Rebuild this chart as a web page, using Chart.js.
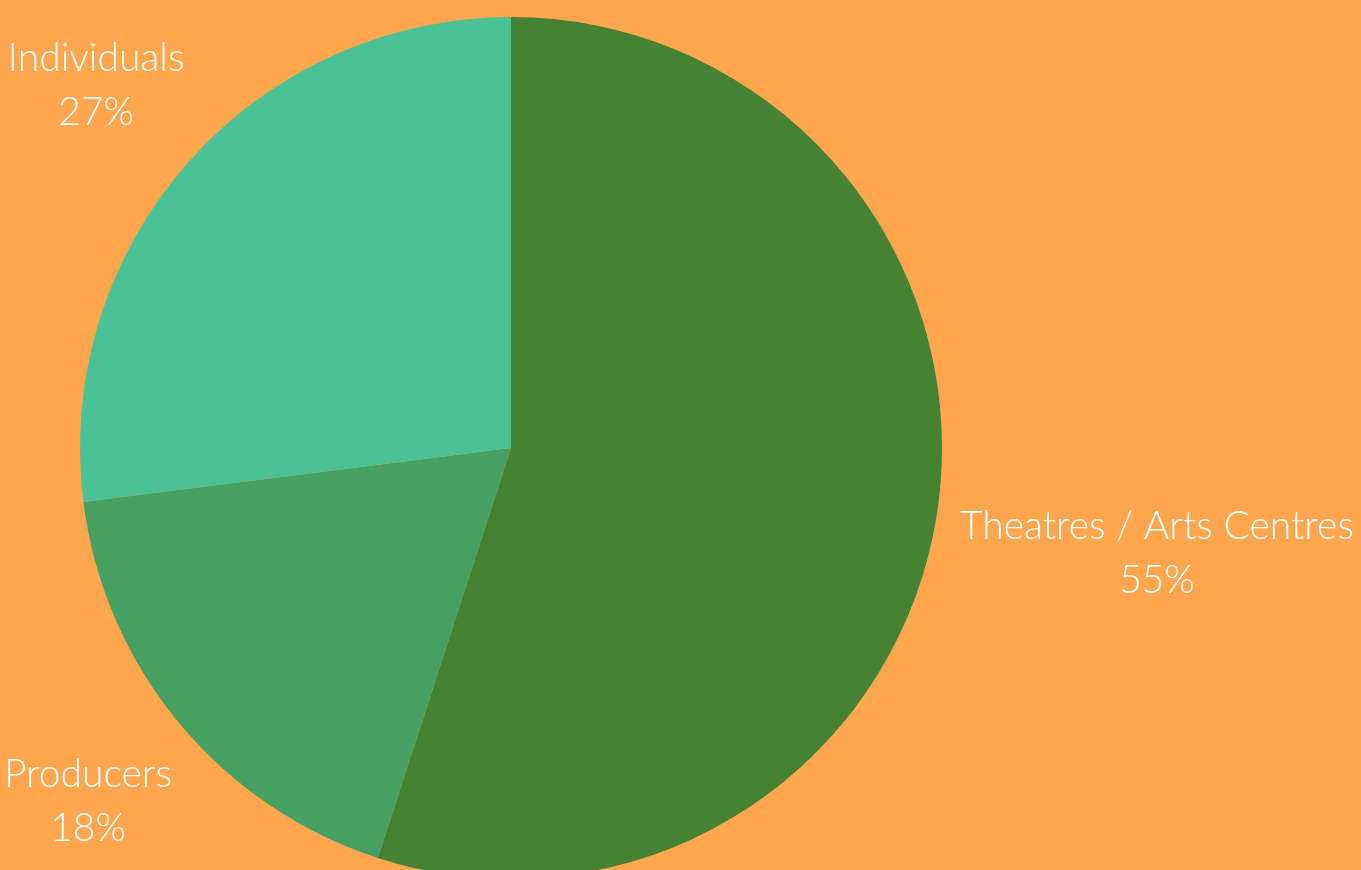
<!DOCTYPE html>
<html>
<head>
<meta charset="utf-8">
<script src="https://cdn.jsdelivr.net/npm/chart.js@4"></script>
<style>
  html, body { margin: 0; padding: 0; background: #FFA64F; overflow: hidden; }
  #wrap { position: relative; width: 1361px; height: 900px; }
</style>
</head>
<body>
<div id="wrap"><canvas id="pie"></canvas></div>
<script>
// chart data
const labels = ['Theatres / Arts Centres', 'Producers', 'Individuals'];
const shares = [55, 18, 27];
const colours = ['#458233', '#46A062', '#4AC295'];

const FONT = '300 39px Lato';
const LINE = 54;

// draws "name / xx%" outside each slice, pushed out along the slice's middle
const outsideLabels = {
  id: 'outsideLabels',
  afterDatasetsDraw(chart) {
    const ctx = chart.ctx;
    const meta = chart.getDatasetMeta(0);
    ctx.save();
    ctx.font = FONT;
    ctx.fillStyle = '#ffffff';
    ctx.textAlign = 'center';
    ctx.textBaseline = 'middle';
    meta.data.forEach((arc, i) => {
      const p = arc.getProps(['x', 'y', 'startAngle', 'endAngle', 'outerRadius'], true);
      const mid = (p.startAngle + p.endAngle) / 2;
      const ux = Math.cos(mid), uy = Math.sin(mid);
      const lines = [labels[i], shares[i] + '%'];
      const w = Math.max(...lines.map(t => ctx.measureText(t).width));
      const h = LINE * lines.length;
      const gap = 20;
      let bx = p.x, by = p.y;
      for (let d = 0; d < p.outerRadius * 2; d++) {
        bx = p.x + ux * d;
        by = p.y + uy * d;
        const kx = bx - Math.sign(ux) * w / 2 - p.x;
        const ky = by - Math.sign(uy) * h / 2 - p.y;
        if (Math.hypot(kx, ky) >= p.outerRadius + gap) break;
      }
      // keep inside visible window
      bx = Math.min(Math.max(bx, w / 2 + 4), 1361 - w / 2 - 4);
      by = Math.min(Math.max(by, h / 2 + 4), 870 - h / 2 - 4);
      lines.forEach((t, k) => {
        ctx.fillText(t, bx, by - h / 2 + LINE * (k + 0.5) + 3);
      });
    });
    ctx.restore();
  }
};

new Chart(document.getElementById('pie'), {
  type: 'pie',
  data: {
    labels: labels,
    datasets: [{
      data: shares,
      backgroundColor: colours,
      borderWidth: 0
    }]
  },
  options: {
    responsive: true,
    maintainAspectRatio: false,
    animation: false,
    layout: { padding: { left: 80, right: 419, top: 17, bottom: 21 } },
    plugins: {
      legend: { display: false },
      tooltip: { enabled: false }
    }
  },
  plugins: [outsideLabels]
});
</script>
</body>
</html>
